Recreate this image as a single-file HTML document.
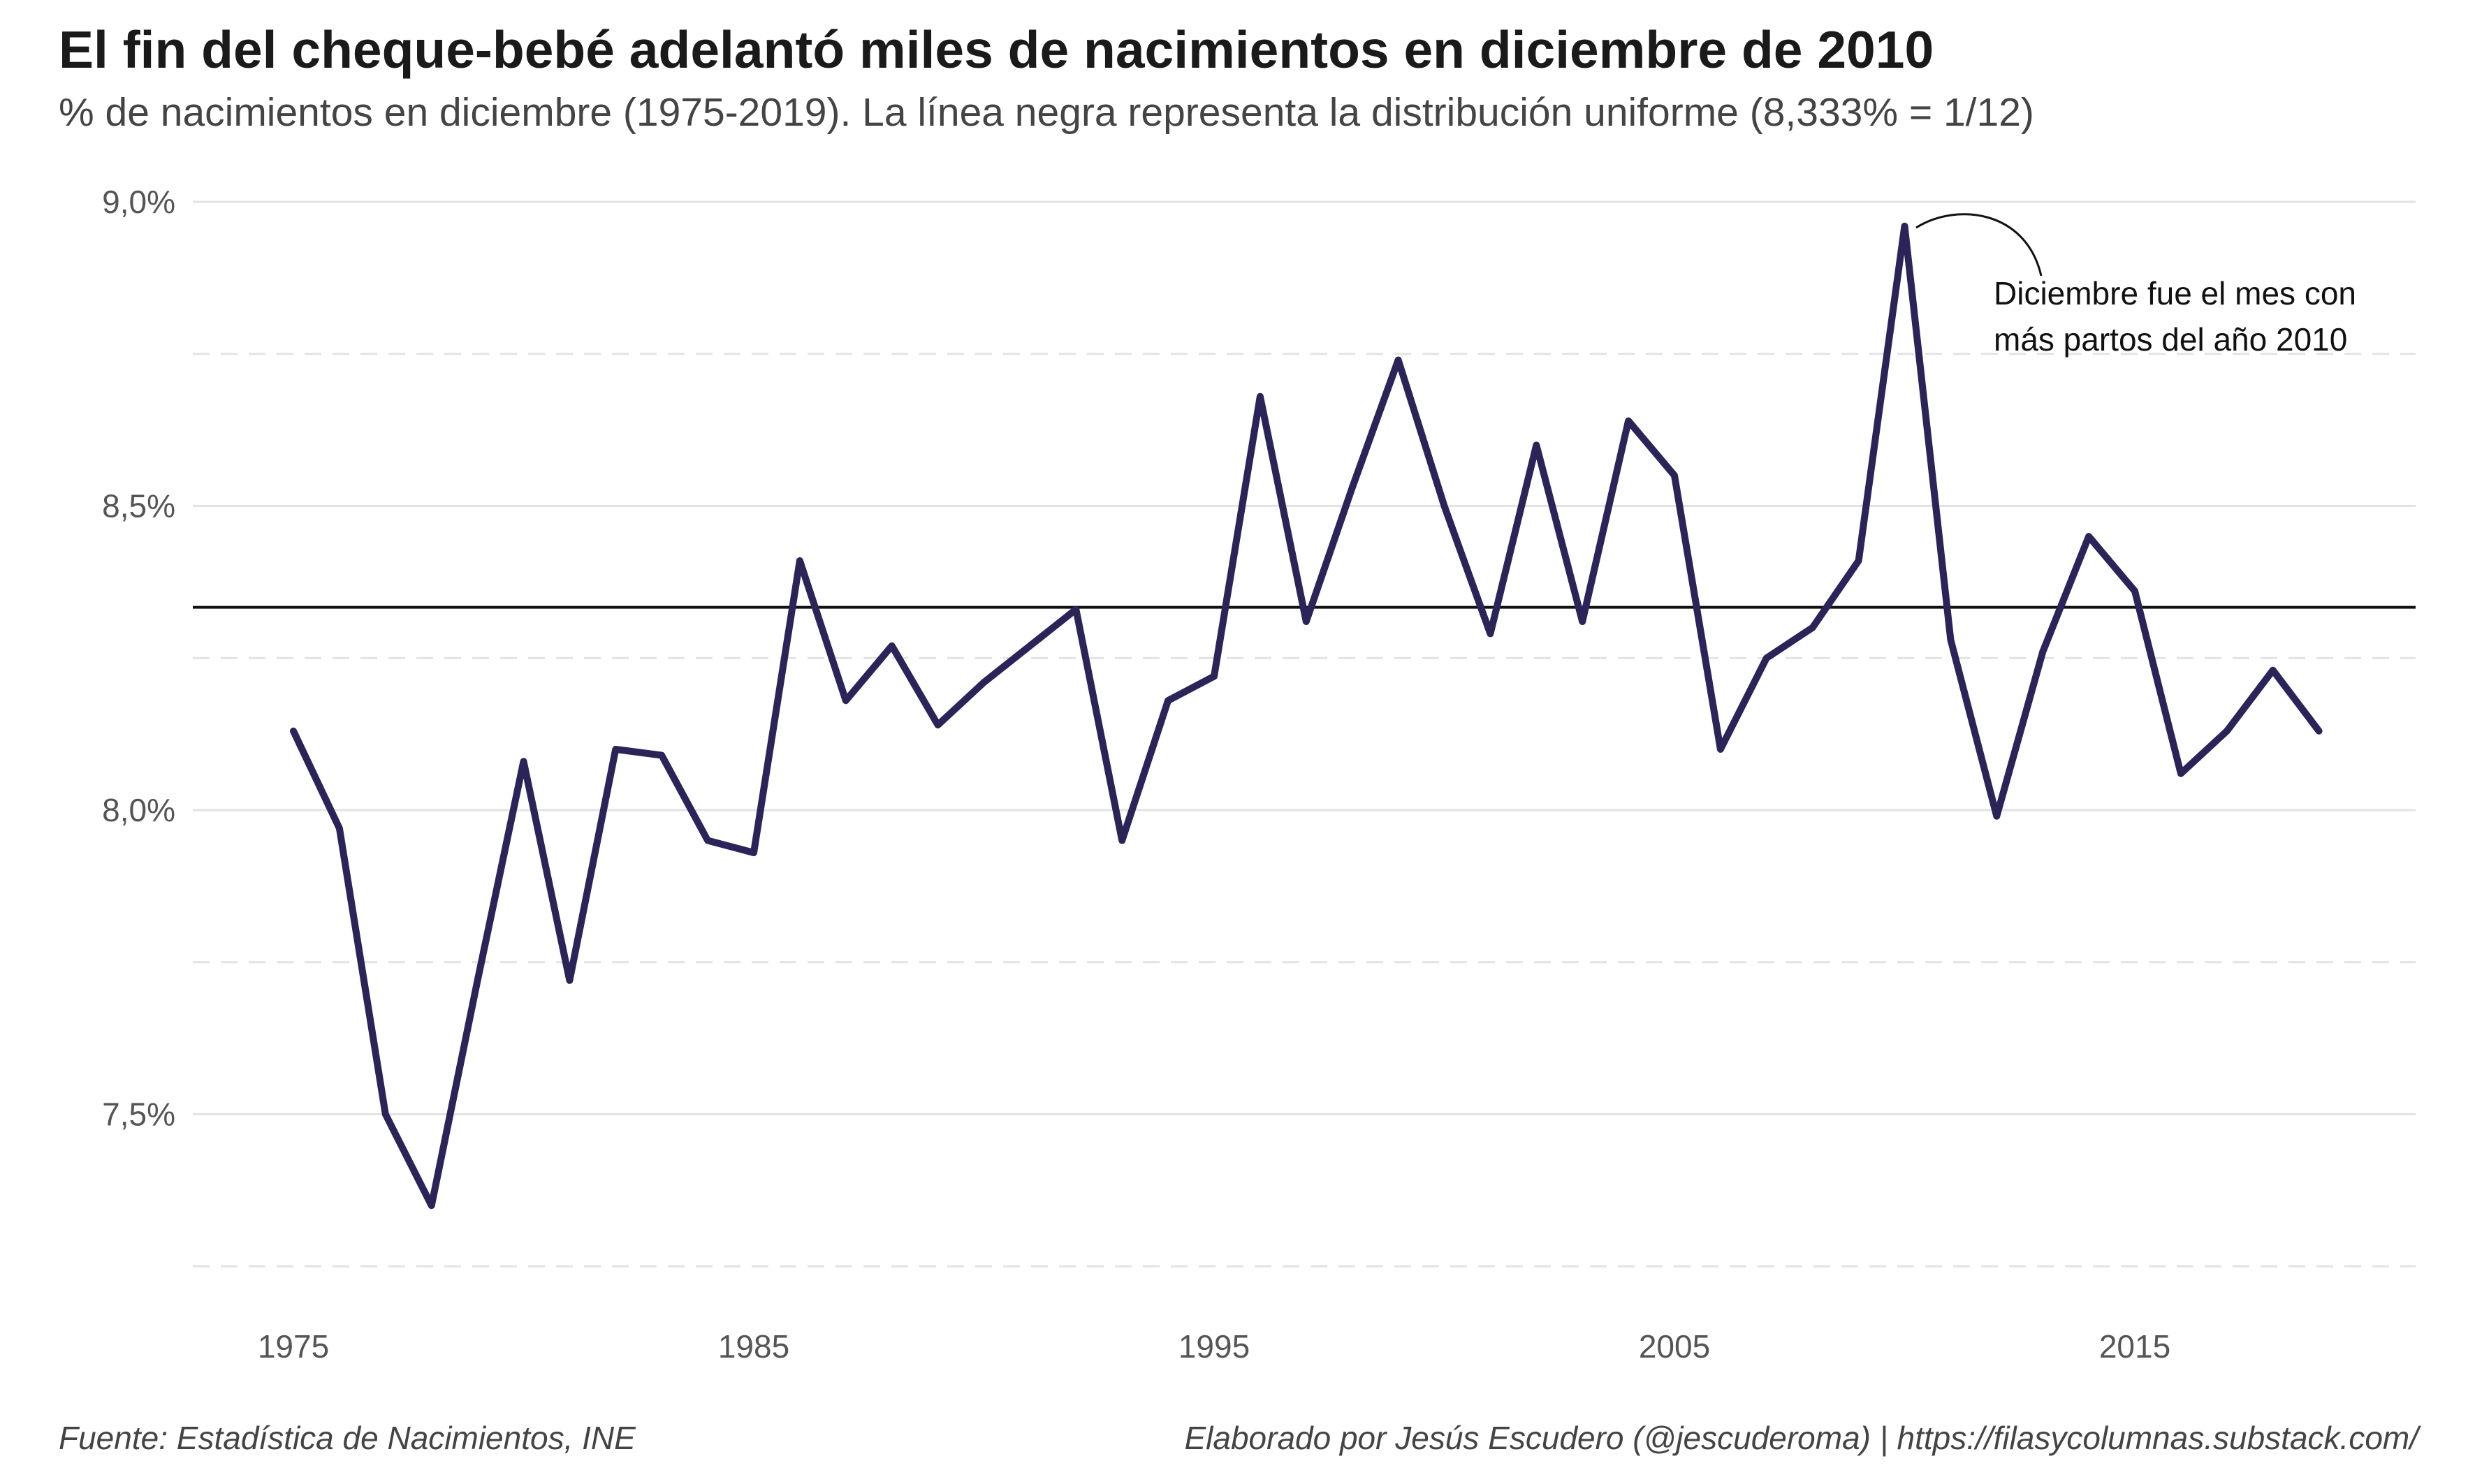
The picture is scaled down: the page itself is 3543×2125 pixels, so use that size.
<!DOCTYPE html>
<html><head><meta charset="utf-8"><style>
html,body{margin:0;padding:0;background:#fff;}
svg{display:block;font-family:"Liberation Sans",Arial,sans-serif;}
</style></head><body>
<svg id="chart" width="3543" height="2125" viewBox="0 0 3543 2125">
<rect width="3543" height="2125" fill="#fff"/>
<text x="84" y="97" font-size="75" font-weight="bold" fill="#1a1a1a">El fin del cheque-bebé adelantó miles de nacimientos en diciembre de 2010</text>
<text x="84" y="180" font-size="57" fill="#444">% de nacimientos en diciembre (1975-2019). La línea negra representa la distribución uniforme (8,333% = 1/12)</text>
<g id="grid"></g>
<g id="yticks"></g>
<g id="xticks"></g>
<line id="uniform" stroke="#111" stroke-width="4"/>
<path id="series" fill="none" stroke="#2a2459" stroke-width="10" stroke-linejoin="round" stroke-linecap="round"/>
<path d="M2743 326 C2800 290, 2900 300, 2922 395" fill="none" stroke="#111" stroke-width="3"/>
<text x="2854" y="436" font-size="46" fill="#111">Diciembre fue el mes con</text>
<text x="2854" y="502" font-size="46" fill="#111">más partos del año 2010</text>
<text x="84" y="2075" font-size="46" font-style="italic" fill="#444">Fuente: Estadística de Nacimientos, INE</text>
<text x="3462" y="2075" font-size="46" font-style="italic" fill="#444" text-anchor="end">Elaborado por Jesús Escudero (@jescuderoma) | https://filasycolumnas.substack.com/</text>
</svg>
<script>
const years = [1975,1976,1977,1978,1979,1980,1981,1982,1983,1984,1985,1986,1987,1988,1989,1990,1991,1992,1993,1994,1995,1996,1997,1998,1999,2000,2001,2002,2003,2004,2005,2006,2007,2008,2009,2010,2011,2012,2013,2014,2015,2016,2017,2018,2019];
const pctDecember = [8.13,7.97,7.50,7.35,7.72,8.08,7.72,8.10,8.09,7.95,7.93,8.41,8.18,8.27,8.14,8.21,8.27,8.33,7.95,8.18,8.22,8.68,8.31,8.53,8.74,8.50,8.29,8.60,8.31,8.64,8.55,8.10,8.25,8.30,8.41,8.96,8.28,7.99,8.26,8.45,8.36,8.06,8.13,8.23,8.13];
const yMajor = [7.5,8.0,8.5,9.0];
const yMajorLabels = ["7,5%","8,0%","8,5%","9,0%"];
const yMinor = [7.25,7.75,8.25,8.75];
const xTicks = [1975,1985,1995,2005,2015];
const uniformValue = 100/12;

const NS="http://www.w3.org/2000/svg";
const left=276, right=3458;
function xs(v){return 420+(v-1975)*(3056-420)/40;}
function ys(v){return 1160-(v-8.0)*871;}
function mk(tag,attrs,parent){const e=document.createElementNS(NS,tag);for(const k in attrs)e.setAttribute(k,attrs[k]);parent.appendChild(e);return e;}
const grid=document.getElementById('grid');
yMinor.forEach(v=>{
  const l=mk('line',{x1:left,x2:right,y1:ys(v),y2:ys(v),stroke:'#e3e3e3','stroke-width':3,'stroke-dasharray':'24 16'},grid);
  
  
});
const yt=document.getElementById('yticks');
yMajor.forEach((v,i)=>{
  const l=mk('line',{x1:left,x2:right,y1:ys(v),y2:ys(v),stroke:'#e3e3e3','stroke-width':3},grid);
  
  
  const t=mk('text',{x:251,y:ys(v)+16,'font-size':46,fill:'#555','text-anchor':'end'},yt);
  t.textContent=yMajorLabels[i];
  
  
});
const xt=document.getElementById('xticks');
xTicks.forEach(v=>{
  const t=mk('text',{x:xs(v),y:1944,'font-size':46,fill:'#555','text-anchor':'middle'},xt);
  t.textContent=v;
  
  
});
const u=document.getElementById('uniform');
u.setAttribute('x1',left);u.setAttribute('x2',right);
u.setAttribute('y1',ys(uniformValue));u.setAttribute('y2',ys(uniformValue));
document.getElementById('series').setAttribute('d',years.map((y,i)=>(i?'L':'M')+xs(y).toFixed(1)+' '+ys(pctDecember[i]).toFixed(1)).join(' '));
</script>
</body></html>
